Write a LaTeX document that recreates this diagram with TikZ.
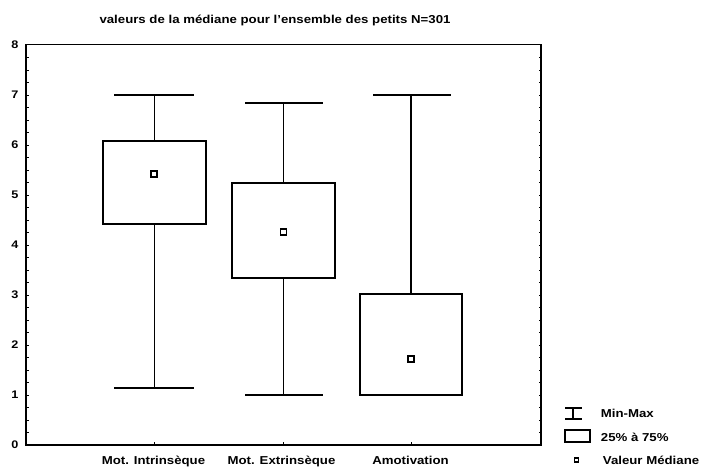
\documentclass[tikz,border=0pt]{standalone}
\usepackage{fontspec}
\setmainfont{Liberation Sans}
\usepackage{graphicx}
\newcommand{\wtxt}[1]{\scalebox{1.15}[1]{#1}}
\begin{document}
\begin{tikzpicture}[x=1pt,y=-1pt,line width=1.8pt,
  lbl/.style={font=\fontsize{11.5}{13}\selectfont\bfseries,inner sep=0pt},
  ylbl/.style={font=\fontsize{11}{13}\selectfont\bfseries,inner sep=0pt},
  med/.style={line width=1.5pt},
  tk/.style={line width=1pt}]
\useasboundingbox (0,0) rectangle (701,467);
\fill[white] (0,0) rectangle (701,467);
% frame
\draw (26,44.5) rectangle (541,445);
% minor ticks
\foreach \v in {0.25,0.5,...,7.75}{
  \draw[tk] (26,{445-50*\v}) -- (28.5,{445-50*\v});
  \draw[tk] (541,{445-50*\v}) -- (538.5,{445-50*\v});
}
\foreach \xx in {154.5,283.5,411}{\draw[tk] (\xx,445) -- (\xx,442);}
% y labels
\foreach \v in {0,...,8}{
  \node[ylbl] (y\v) at (15,{445-50*\v}) {\wtxt{\v}};
}
% title
\node[lbl] (title) at (275,20) {\wtxt{valeurs de la médiane pour l'ensemble des petits N=301}};
% box 1
\draw (114,95) -- (194,95);
\draw (154.5,95) -- (154.5,141);
\draw (103,141) rectangle (206,224);
\draw (154.5,224) -- (154.5,388);
\draw (114,388) -- (194,388);
\draw[med] (151,171) rectangle (157,177);
% box 2
\draw (245,103) -- (323,103);
\draw (283.5,103) -- (283.5,183);
\draw (232,183) rectangle (335,278);
\draw (283.5,278) -- (283.5,395);
\draw (245,395) -- (323,395);
\draw[med] (280.5,229) rectangle (286.5,235);
% box 3
\draw (373,95) -- (451,95);
\draw (411,95) -- (411,294);
\draw (360,294) rectangle (462,395);
\draw (373,395) -- (451,395);
\draw[med] (408,356) rectangle (414,362);
% x labels
\node[lbl,anchor=base] (c1) at (153.5,464) {\wtxt{Mot. Intrinsèque}};
\node[lbl,anchor=base] (c2) at (281.5,464) {\wtxt{Mot. Extrinsèque}};
\node[lbl,anchor=base] (c3) at (410.5,464) {\wtxt{Amotivation}};
% legend
\draw (565,408) -- (582,408);
\draw (573,408) -- (573,419);
\draw (565,419) -- (582,419);
\draw (565,430) rectangle (590,442);
\draw[med] (574.5,458) rectangle (578.5,462);
\node[lbl,anchor=west] (l1) at (600,413) {\wtxt{Min-Max}};
\node[lbl,anchor=west] (l2) at (600,437) {\wtxt{25\% à 75\%}};
\node[lbl,anchor=west] (l3) at (602,460) {\wtxt{Valeur Médiane}};
\end{tikzpicture}
\end{document}
